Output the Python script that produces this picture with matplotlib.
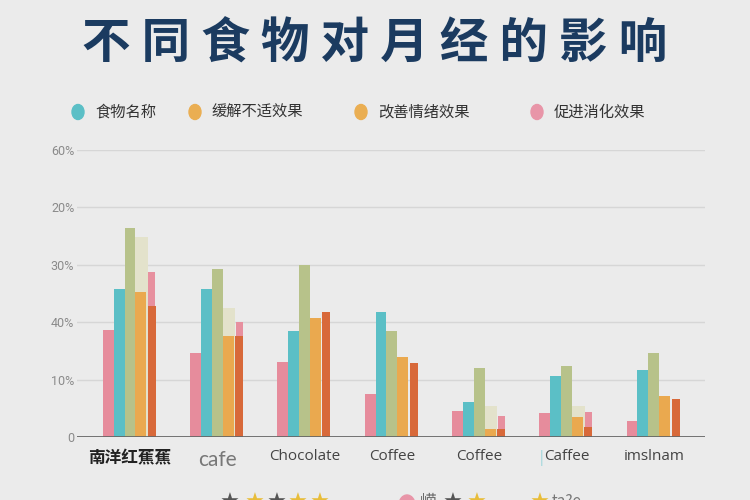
import matplotlib.pyplot as plt
from matplotlib.patches import Ellipse
from matplotlib.transforms import blended_transform_factory

plt.rcParams['font.family'] = ['Noto Sans CJK SC', 'DejaVu Sans']

# foods along the x axis
foods = ['南洋红蕉蕉', 'cafe', 'Chocolate', 'Coffee', 'Coffee', 'Caffee', 'imslnam']

# bar heights (axis units, one gridline = 10)
pink = [18.7, 14.7, 13.1, 7.5, 4.5, 4.2, 2.8]
teal = [25.7, 25.7, 18.5, 21.8, 6.1, 10.7, 11.6]
olive = [36.4, 29.3, 29.9, 18.4, 12.1, 12.4, 14.6]
cream = [34.8, 22.5, 0, 0, 5.4, 5.4, 0]
orange = [25.2, 17.6, 20.8, 14.0, 1.4, 3.5, 7.2]
pink2 = [28.8, 20.1, 0, 0, 3.7, 4.4, 0]
darkorange = [22.9, 17.6, 21.8, 12.9, 1.4, 1.8, 6.7]

# the y labels as printed in the picture
ytick_vals = [0, 10, 20, 30, 40, 50]
ytick_labels = ['0', '10%', '40%', '30%', '20%', '60%']

legend_names = ['食物名称', '缓解不适效果', '改善情绪效果', '促进消化效果']
legend_colors = ['#5bbfc6', '#eaae52', '#eaae52', '#e895a8']

bg = '#ebebeb'
fig = plt.figure(figsize=(7.5, 5), dpi=100, facecolor=bg)
ax = fig.add_axes([77 / 750, 1 - 437 / 500, (705 - 77) / 750, (437 - 150) / 500])
ax.set_facecolor(bg)

x = list(range(len(foods)))
w = 0.125
c = 0.0

def shift(d):
    return [i + c + d for i in x]

ax.bar(shift(1.05 * w), cream, 0.15, color='#e3e2cb', zorder=1)
ax.bar(shift(2 * w), pink2, 0.08, color='#e7909f', zorder=2)
ax.bar(shift(-2 * w), pink, w, color='#e68c9c', zorder=3)
ax.bar(shift(-w), teal, w, color='#5bbfc6', zorder=3)
ax.bar(shift(0), olive, w, color='#b7c28a', zorder=3)
ax.bar(shift(2 * w), darkorange, 0.09, color='#d8693a', zorder=4)
ax.bar(shift(w), orange, w, color='#eaa94f', zorder=5)

ax.set_xlim((77 - 130) / 87.3, (705 - 130) / 87.3)
ax.set_ylim(0, 50)

ax.set_yticks(ytick_vals)
ax.set_yticklabels(ytick_labels, color='#8a8a8a', fontsize=9, family=['Roboto', 'DejaVu Sans'])
ax.tick_params(axis='y', length=0, pad=2)
for v in ytick_vals[1:]:
    ax.axhline(v, color='#d6d6d6', lw=1, zorder=0)
ax.axhline(0, color='#666666', lw=2, zorder=6)

for s in ax.spines.values():
    s.set_visible(False)

ax.set_xticks(x)
ax.set_xticklabels(foods)
ax.tick_params(axis='x', length=0, pad=9)
for i, lab in enumerate(ax.get_xticklabels()):
    if i == 0:
        lab.set_fontsize(12)
        lab.set_fontweight('bold')
        lab.set_color('#222222')
    elif i == 1:
        lab.set_fontsize(15)
        lab.set_family(['Lato', 'DejaVu Sans'])
        lab.set_fontweight('normal')
        lab.set_color('#777777')
    else:
        lab.set_fontsize(11)
        lab.set_family(['Open Sans', 'DejaVu Sans'])
        lab.set_color('#444444')

trans = blended_transform_factory(ax.transData, fig.transFigure)
ax.text(4.71, 1 - 458 / 500, '|', color='#8fd3d8', fontsize=10, ha='center', va='center',
        transform=trans)

# title
fig.text(0.5, 1 - 44 / 500, ' '.join('不同食物对月经的影响'), ha='center', va='center',
         fontsize=35, fontweight='bold', color='#1b3b60')

# legend row
lx = [78, 195, 361, 537]
for name, col, px in zip(legend_names, legend_colors, lx):
    fig.add_artist(Ellipse((px / 750, 1 - 112 / 500), 12 / 750, 15 / 500, color=col,
                           transform=fig.transFigure))
    fig.text((px + 17) / 750, 1 - 112 / 500, name, fontsize=11, color='#333333', va='center')

# rating row at the bottom, cut by the lower edge as in the reference
stars_x = [230, 255, 277, 298, 320, 453, 477, 540]
stars_c = ['#555555', '#e8bd3a', '#555555', '#e8bd3a', '#e8bd3a', '#555555', '#e8bd3a', '#e8bd3a']
for px, col in zip(stars_x, stars_c):
    fig.text(px / 750, 1 - 503 / 500, '★', fontsize=16, color=col, ha='center', va='center',
             family=['DejaVu Sans'])
fig.add_artist(Ellipse((407 / 750, 1 - 505 / 500), 16 / 750, 20 / 500, color='#e895a8',
                       transform=fig.transFigure))
fig.text(428 / 750, 1 - 502 / 500, '嵘', fontsize=12, color='#666666', ha='center', va='center')
fig.text(552 / 750, 1 - 502 / 500, 'ta?e', fontsize=11, color='#777777', va='center')

fig.savefig('out.png', dpi=100, facecolor=bg)
